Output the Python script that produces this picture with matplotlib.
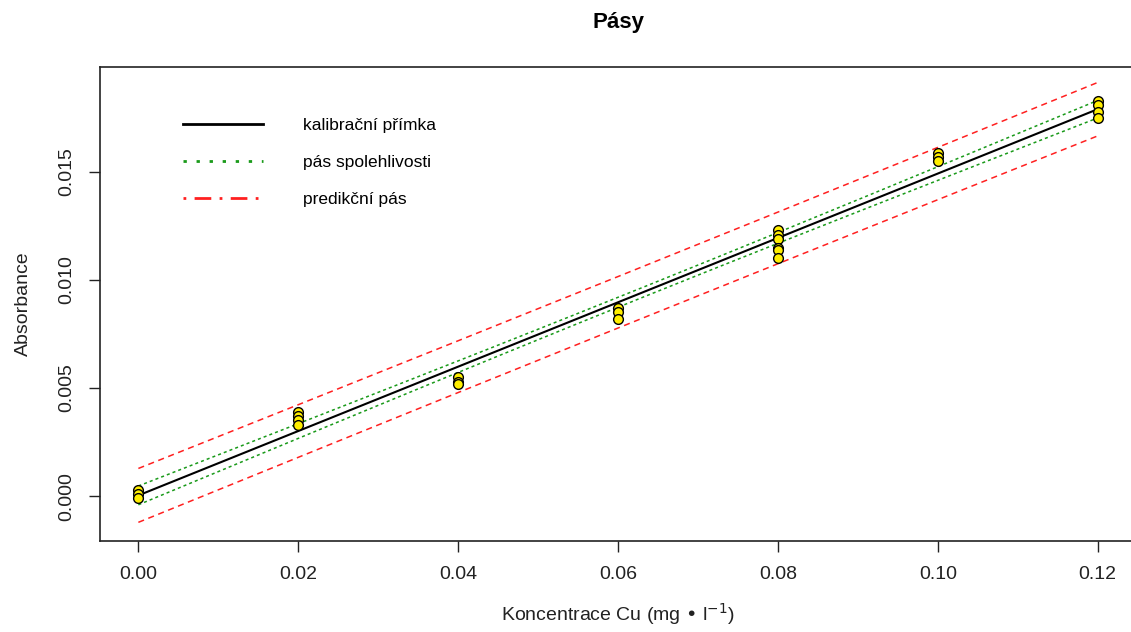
import numpy as np
import matplotlib
matplotlib.use("Agg")
import matplotlib.pyplot as plt
from matplotlib.lines import Line2D

plt.rcParams['font.family'] = ['Liberation Sans', 'DejaVu Sans']

# data: concentration levels and measured absorbances
conc_levels = [0.00, 0.02, 0.04, 0.06, 0.08, 0.10, 0.12]
abs_000 = [0.0003, 0.0001, -0.0001]
abs_002 = [0.0039, 0.0037, 0.0035, 0.0033]
abs_004 = [0.0055, 0.0053, 0.0052]
abs_006 = [0.0087, 0.0085, 0.0082]
abs_008 = [0.0123, 0.0121, 0.0119, 0.0115, 0.0114, 0.0110]
abs_010 = [0.0159, 0.0157, 0.0155]
abs_012 = [0.0183, 0.0181, 0.0178, 0.0175]
groups = [abs_000, abs_002, abs_004, abs_006, abs_008, abs_010, abs_012]

x_ticks = [0.00, 0.02, 0.04, 0.06, 0.08, 0.10, 0.12]
x_tick_labels = ["0.00", "0.02", "0.04", "0.06", "0.08", "0.10", "0.12"]
y_ticks = [0.000, 0.005, 0.010, 0.015]
y_tick_labels = ["0.000", "0.005", "0.010", "0.015"]
T_QUANTILE = 2.064  # t(0.975, df = n - 2)

x = np.concatenate([[c] * len(g) for c, g in zip(conc_levels, groups)])
y = np.concatenate(groups)
n = len(x)
b, a = np.polyfit(x, y, 1)
resid = y - (a + b * x)
s = np.sqrt(np.sum(resid ** 2) / (n - 2))
xm = x.mean()
sxx = np.sum((x - xm) ** 2)

xg = np.linspace(0, 0.12, 200)
yg = a + b * xg
se_c = s * np.sqrt(1 / n + (xg - xm) ** 2 / sxx)
se_p = s * np.sqrt(1 + 1 / n + (xg - xm) ** 2 / sxx)

fig = plt.figure(figsize=(11.31, 6.32), dpi=100)
ax = fig.add_axes([100 / 1131, 1 - 541 / 632, 1036 / 1131, 474 / 632])

ax.plot(xg, yg, color='black', lw=1.5)
for sign in (1, -1):
    ax.plot(xg, yg + sign * T_QUANTILE * se_c, color='#1a9a1a', lw=1.1, ls=(0, (2, 2)))
    ax.plot(xg, yg + sign * T_QUANTILE * se_p, color='#ff2020', lw=1.1, ls=(0, (4, 3)))

ax.plot(x, y, 'o', ms=7, mfc='#ffee00', mec='black', mew=1.0, ls='none', zorder=5)

ax.set_xlim(-0.0048, 0.1248)
ax.set_ylim(-0.00208, 0.01986)
ax.set_xticks(x_ticks)
ax.set_xticklabels(x_tick_labels)
ax.set_yticks(y_ticks)
ax.set_yticklabels(y_tick_labels, rotation=90, va='center')
ax.tick_params(direction='out', length=8, width=1, labelsize=14, colors='#222222', pad=10)
for sp in ax.spines.values():
    sp.set_color('#222222')
    sp.set_linewidth(1.2)

ax.set_xlabel("Koncentrace Cu (mg \u2022 l$^{-1}$)", fontsize=14, labelpad=13, color='#222222')
ax.set_ylabel("Absorbance", fontsize=14, labelpad=19, color='#222222')
ax.set_title("Pásy", fontsize=16, fontweight='bold', pad=28)

handles = [
    Line2D([], [], color='black', lw=2),
    Line2D([], [], color='#1a9a1a', lw=2, ls=(0, (1.2, 3.5))),
    Line2D([], [], color='#ff2020', lw=2, ls=(0, (1, 3, 6, 3))),
]
labels = ["kalibrační přímka", "pás spolehlivosti", "predikční pás"]
ax.legend(handles, labels, loc='upper left', bbox_to_anchor=(0.065, 0.925), frameon=False,
          fontsize=12.5, handlelength=4.6, handletextpad=2.3, labelspacing=1.25)

fig.savefig("out.png", dpi=100)
